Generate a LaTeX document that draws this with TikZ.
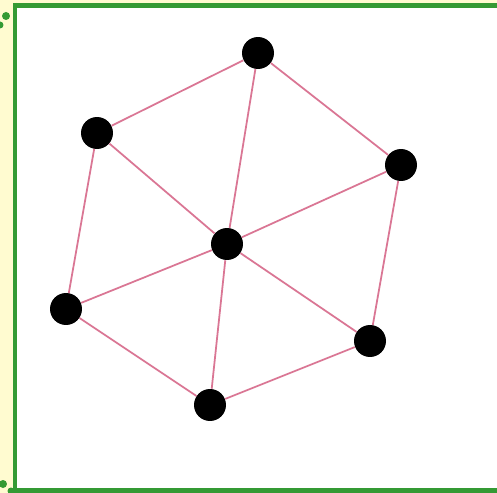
\documentclass[tikz,border=0pt]{standalone}
\definecolor{frameGreen}{RGB}{52,154,52}
\definecolor{paleYellow}{RGB}{255,251,208}
\definecolor{edgePink}{RGB}{218,118,148}
\usepackage{tikz}

\begin{document}
\begin{tikzpicture}[x=0.02cm, y=-0.02cm,
      vertex/.style={circle, fill=black, minimum size=0.64cm, inner sep=0pt},
      link/.style={draw=edgePink, line width=1pt}]
      \useasboundingbox (0,0) rectangle (497,493);
      \fill[paleYellow] (0,0) rectangle (497,493);
      \fill[white] (15,5.5) rectangle (497,490.5);
      \draw[frameGreen, line width=0.1cm] (15,5.5) -- (500,5.5);
      \draw[frameGreen, line width=0.1cm] (15,3) -- (15,490.5) -- (500,490.5);
      % dotted corner
      \fill[frameGreen] (6,16) circle (0.08cm) (0,25) circle (0.07cm)
                        (3,484) circle (0.08cm) (11,491) circle (0.07cm);
      \node[vertex] (top) at (258,53) {};
      \node[vertex] (upleft) at (97,133) {};
      \node[vertex] (upright) at (401,165) {};
      \node[vertex] (mid) at (227,244) {};
      \node[vertex] (lowleft) at (66,309) {};
      \node[vertex] (lowright) at (370,341) {};
      \node[vertex] (bottom) at (210,405) {};
      \draw[link] (top) -- (upleft);
      \draw[link] (top) -- (upright);
      \draw[link] (upleft) -- (lowleft);
      \draw[link] (lowleft) -- (bottom);
      \draw[link] (bottom) -- (lowright);
      \draw[link] (lowright) -- (upright);
      \draw[link] (mid) -- (top);
      \draw[link] (mid) -- (upleft);
      \draw[link] (mid) -- (upright);
      \draw[link] (mid) -- (lowleft);
      \draw[link] (mid) -- (lowright);
      \draw[link] (mid) -- (bottom);
    \end{tikzpicture}
\end{document}
